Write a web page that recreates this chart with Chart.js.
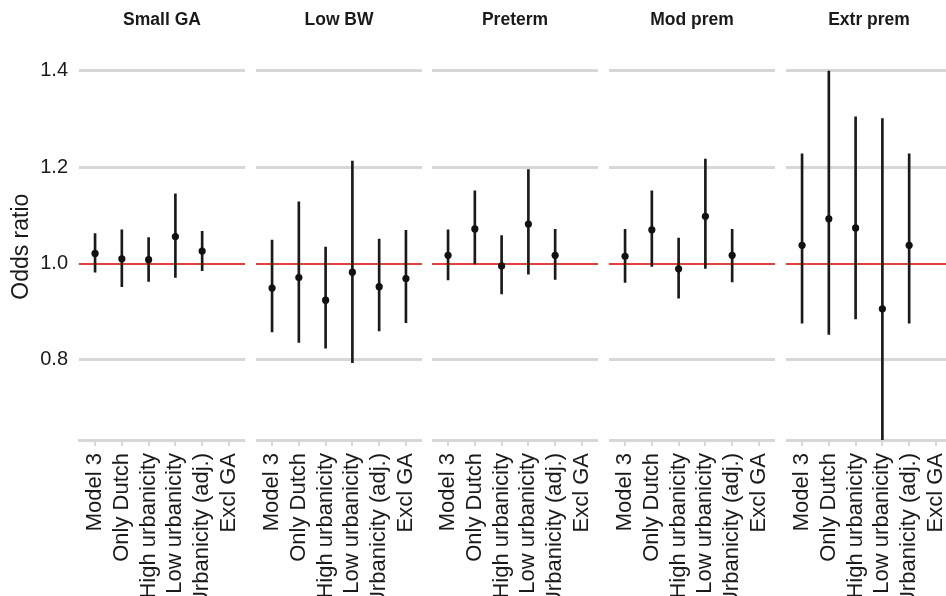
<!DOCTYPE html>
<html>
<head>
<meta charset="utf-8">
<script src="https://cdn.jsdelivr.net/npm/chart.js@4.4.1/dist/chart.umd.min.js"></script>
<style>
  html, body { margin: 0; padding: 0; background: #fff; overflow: hidden; }
  #wrap { position: relative; width: 946px; height: 596px; overflow: hidden; }
  .panel { position: absolute; top: 0; height: 596px; }
</style>
</head>
<body>
<div id="wrap"></div>
<script>
// outcomes (one facet each) and the model variants on the x axis
const outcomes = ['Small GA', 'Low BW', 'Preterm', 'Mod prem', 'Extr prem'];
const models = ['Model 3', 'Only Dutch', 'High urbanicity', 'Low urbanicity', 'Urbanicity (adj.)', 'Excl GA'];

// odds ratios, one row per outcome, one column per model (null = not fitted)
const estimates = [
  [1.021, 1.010, 1.008, 1.056, 1.026, null],
  [0.949, 0.971, 0.924, 0.982, 0.952, 0.969],
  [1.017, 1.072, 0.995, 1.082, 1.017, null],
  [1.015, 1.070, 0.989, 1.098, 1.017, null],
  [1.038, 1.093, 1.074, 0.906, 1.038, null]
];
const lower = [
  [0.982, 0.952, 0.963, 0.971, 0.985, null],
  [0.858, 0.836, 0.824, 0.794, 0.860, 0.877],
  [0.966, 0.999, 0.937, 0.978, 0.967, null],
  [0.961, 0.994, 0.928, 0.990, 0.962, null],
  [0.876, 0.853, 0.885, 0.620, 0.876, null]
];
const upper = [
  [1.062, 1.070, 1.054, 1.145, 1.067, null],
  [1.049, 1.128, 1.034, 1.213, 1.051, 1.069],
  [1.070, 1.151, 1.058, 1.195, 1.071, null],
  [1.071, 1.151, 1.053, 1.217, 1.071, null],
  [1.228, 1.400, 1.305, 1.301, 1.228, null]
];
const yTicks = [0.8, 1.0, 1.2, 1.4];
const refValue = 1.0;

const gridGrey = '#d7d7d7';
const ink = '#1a1a1a';
const refRed = '#e4403d';
const fontFamily = 'Liberation Sans, Arial, sans-serif';

// facet geometry
const axisWidth = 79;
const panelWidth = 166;
const panelStep = 176.7;

const isRef = c => c.tick && Math.abs(c.tick.value - refValue) < 1e-9;

const wrap = document.getElementById('wrap');

outcomes.forEach((name, k) => {
  const first = k === 0;
  const div = document.createElement('div');
  div.className = 'panel';
  const left = first ? 0 : Math.round(axisWidth + panelStep * k);
  const width = first ? axisWidth + panelWidth : panelWidth;
  div.style.left = left + 'px';
  div.style.width = width + 'px';
  const canvas = document.createElement('canvas');
  div.appendChild(canvas);
  wrap.appendChild(div);

  const bars = [];
  const points = [];
  models.forEach((m, i) => {
    if (estimates[k][i] == null) return;
    bars.push({ x: i, y: [lower[k][i], upper[k][i]] });
    points.push({ x: i, y: estimates[k][i] });
  });

  new Chart(canvas, {
    type: 'bar',
    data: {
      datasets: [
        {
          type: 'scatter',
          data: points,
          pointRadius: 3.6,
          pointHoverRadius: 3.6,
          backgroundColor: '#111',
          borderWidth: 0,
          order: 0
        },
        {
          type: 'bar',
          data: bars,
          barThickness: 2,
          backgroundColor: ink,
          borderWidth: 0,
          order: 1
        }
      ]
    },
    options: {
      responsive: true,
      maintainAspectRatio: false,
      animation: false,
      layout: { padding: 0, autoPadding: false },
      plugins: {
        legend: { display: false },
        tooltip: { enabled: false },
        title: {
          display: true,
          text: name,
          fullSize: false,
          color: ink,
          font: { family: fontFamily, size: 17.5, weight: 'bold', lineHeight: 1.2 },
          padding: { top: 10, bottom: 22.4 }
        }
      },
      scales: {
        x: {
          type: 'linear',
          offset: false,
          min: -0.6,
          max: 5.6,
          afterBuildTicks: s => { s.ticks = models.map((m, i) => ({ value: i })); },
          afterFit: s => {
            // labels are rotated and sit inside the panel width, no side padding needed
            s.height = 156;
            s.paddingLeft = 0;
            s.paddingRight = 0;
          },
          ticks: {
            autoSkip: false,
            minRotation: 90,
            maxRotation: 90,
            padding: 7,
            color: ink,
            font: { family: fontFamily, size: 22 },
            callback: v => models[v]
          },
          grid: {
            offset: false,
            drawOnChartArea: false,
            drawTicks: true,
            tickLength: 6,
            color: gridGrey,
            lineWidth: 2
          },
          border: { display: true, color: gridGrey, width: 3 }
        },
        y: {
          min: 0.6335,
          max: 1.4365,
          afterBuildTicks: s => { s.ticks = yTicks.map(v => ({ value: v })); },
          afterFit: s => {
            s.width = first ? axisWidth : 0;
            s.paddingTop = 0;
            s.paddingBottom = 0;
          },
          ticks: {
            display: first,
            padding: 11,
            color: ink,
            font: { family: fontFamily, size: 20 },
            callback: v => v.toFixed(1)
          },
          grid: {
            drawTicks: false,
            color: c => isRef(c) ? refRed : gridGrey,
            lineWidth: c => isRef(c) ? 2 : 3
          },
          border: { display: false },
          title: {
            display: first,
            text: 'Odds ratio',
            color: ink,
            font: { family: fontFamily, size: 23 },
            padding: { top: 8, bottom: 0 }
          }
        }
      }
    }
  });
});
</script>
</body>
</html>
